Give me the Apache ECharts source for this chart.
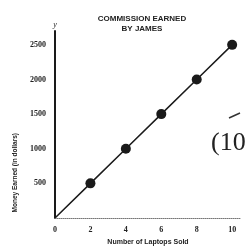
<!DOCTYPE html>
<html>
<head>
<meta charset="utf-8">
<script src="https://cdn.jsdelivr.net/npm/echarts@6/dist/echarts.min.js"></script>
<style>
  html, body { margin: 0; padding: 0; background: #fff; }
  #chart { width: 247px; height: 252px; }
</style>
</head>
<body>
<div id="chart"></div>
<script>
// laptops sold vs money earned
const laptops = [0, 2, 4, 6, 8, 10]
const earned = [0, 500, 1000, 1500, 2000, 2500]
const titleLines = ['COMMISSION EARNED', 'BY JAMES']

const myChart = echarts.init(document.getElementById('chart'))
const ink = '#1a1a1a'
const option = {
  backgroundColor: '#fff',
  animation: false,
  title: {
    text: titleLines.join('\n'),
    left: 137,
    top: 9,
    textAlign: 'center',
    textStyle: { fontFamily: 'Liberation Sans', fontSize: 8, fontWeight: 'bold', color: '#222', lineHeight: 10 }
  },
  grid: { left: 55, right: 6, top: 31, bottom: 34 },
  xAxis: {
    type: 'value',
    min: 0,
    max: 10.5,
    interval: 2,
    name: 'Number of Laptops Sold',
    nameLocation: 'middle',
    nameGap: 21,
    nameTextStyle: { fontFamily: 'Liberation Sans', fontSize: 7, fontWeight: 'bold', color: '#222' },
    axisLine: { lineStyle: { color: '#777', width: 1, type: 'dotted' } },
    axisTick: { show: false },
    splitLine: { show: false },
    axisLabel: {
      showMaxLabel: false,
      margin: 8,
      formatter: v => String(v),
      fontFamily: 'Liberation Serif', fontSize: 8, fontWeight: 'bold', color: '#222'
    }
  },
  yAxis: {
    type: 'value',
    min: 0,
    max: 2700,
    interval: 500,
    name: 'y',
    nameLocation: 'end',
    nameGap: 2,
    nameTextStyle: { fontFamily: 'Liberation Serif', fontSize: 8, fontStyle: 'italic', color: '#222', align: 'center' },
    axisLine: { show: true, lineStyle: { color: ink, width: 2 } },
    axisTick: { show: false },
    splitLine: { show: false },
    axisLabel: {
      showMinLabel: false,
      showMaxLabel: false,
      margin: 9,
      formatter: v => String(v),
      fontFamily: 'Liberation Serif', fontSize: 8, fontWeight: 'bold', color: '#222'
    }
  },
  graphic: [
    {
      type: 'text', left: 12, top: 133, rotation: Math.PI / 2,
      style: {
        text: 'Money Earned (in dollars)', fill: '#222', align: 'center', verticalAlign: 'middle',
        font: 'bold 6.5px "Liberation Sans"'
      }
    },
    {
      type: 'text', left: 211, top: 130,
      style: { text: '(10', fill: '#222', font: '26px "Liberation Serif"' }
    },
    {
      type: 'line', shape: { x1: 229, y1: 118, x2: 240, y2: 113 },
      style: { stroke: '#333', lineWidth: 1.5 }
    }
  ],
  series: [
    {
      type: 'line',
      data: laptops.map((x, i) => [x, earned[i]]),
      lineStyle: { color: ink, width: 1.5 },
      itemStyle: { color: ink },
      symbol: 'circle',
      symbolSize: (v, p) => (p.dataIndex === 0 ? 0 : 10),
      z: 3
    }
  ]
}
myChart.setOption(option)
</script>
</body>
</html>
